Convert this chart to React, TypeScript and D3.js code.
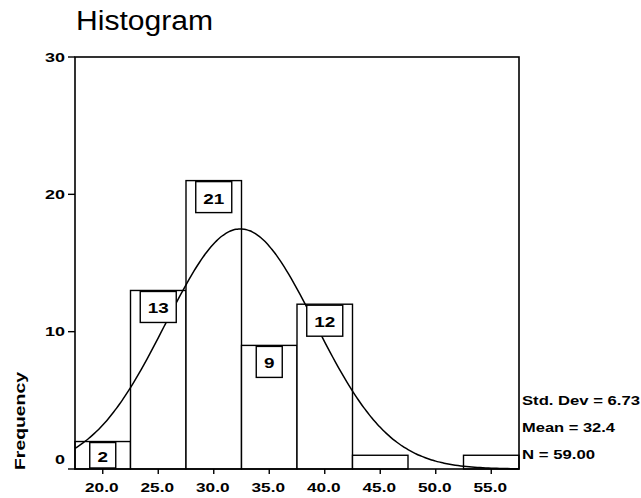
import * as d3 from "d3";

// histogram bins (lower edge) and frequencies
const binStarts = [17.5, 22.5, 27.5, 32.5, 37.5, 42.5, 47.5, 52.5];
const counts = [2, 13, 21, 9, 12, 1, 0, 1];
const showLabel = [true, true, true, true, true, false, false, false];
const yTicks = [0, 10, 20, 30];
const xTicks = [20, 25, 30, 35, 40, 45, 50, 55];
const statLines = ["Std. Dev = 6.73", "Mean = 32.4", "N = 59.00"];
const statWidths = [118, 93, 73];

// fitted normal curve parameters (from the chart's legend)
const mean = 32.4;
const stdDev = 6.73;
const total = 59;
const binWidth = 5;

const FONT = "'Liberation Sans', Arial, sans-serif";

function Txt({ x, y, text, size, len, anchor = "start", weight = "bold", rotate }: any) {
  return (
    <text
      x={x}
      y={y}
      fontSize={size}
      fontFamily={FONT}
      fontWeight={weight}
      textAnchor={anchor}
      dominantBaseline="central"
      textLength={len}
      lengthAdjust="spacingAndGlyphs"
      transform={rotate ? `rotate(${rotate},${x},${y})` : undefined}
    >
      {text}
    </text>
  );
}

const numWidth = (s: string) => s.split("").reduce((a, c) => a + (c === "." ? 5 : 9.5), 0);

export default function App() {
  const width = 641;
  const height = 498;

  const x = d3.scaleLinear().domain([17.5, 57.5]).range([75, 519]);
  const y = d3.scaleLinear().domain([0, 30]).range([469, 57]);

  const normal = (v: number) =>
    (total * binWidth) / (stdDev * Math.sqrt(2 * Math.PI)) *
    Math.exp(-((v - mean) ** 2) / (2 * stdDev * stdDev));

  const curvePts = d3.range(17.5, 57.51, 0.25).map((v) => [v, normal(v)] as [number, number]);
  const line = d3
    .line<[number, number]>()
    .x((d) => x(d[0]))
    .y((d) => y(d[1]))
    .curve(d3.curveBasis);

  return (
    <svg
      width={width}
      height={height}
      style={{ position: "absolute", left: 0, top: 0, background: "#fff" }}
    >
      <rect width={width} height={height} fill="#fff" />

      {/* title */}
      <text x={76} y={30} fontSize={27} fontFamily={FONT} textLength={137} lengthAdjust="spacingAndGlyphs">
        Histogram
      </text>

      {/* bars */}
      {binStarts.map((b, i) =>
        counts[i] > 0 ? (
          <rect
            key={"bar" + i}
            x={x(b)}
            y={y(counts[i])}
            width={x(b + binWidth) - x(b)}
            height={y(0) - y(counts[i])}
            fill="#fff"
            stroke="#000"
            strokeWidth={1.4}
          />
        ) : null
      )}

      {/* normal curve */}
      <path d={line(curvePts) || ""} fill="none" stroke="#000" strokeWidth={1.5} />

      {/* value boxes */}
      {binStarts.map((b, i) => {
        if (!showLabel[i]) return null;
        const label = String(counts[i]);
        const bw = label.length > 1 ? 36 : 26;
        const cx = x(b + binWidth / 2);
        const top = y(counts[i]) + 1;
        const bh = Math.min(31, y(0) - top - 1);
        return (
          <g key={"lab" + i}>
            <rect x={cx - bw / 2} y={top} width={bw} height={bh} fill="#fff" stroke="#000" strokeWidth={1.4} />
            <Txt x={cx} y={top + bh / 2 + 1} text={label} size={15} len={label.length * 10.5} anchor="middle" />
          </g>
        );
      })}

      {/* frame */}
      <rect x={x(17.5)} y={y(30)} width={x(57.5) - x(17.5)} height={y(0) - y(30)} fill="none" stroke="#000" strokeWidth={1.6} />

      {/* y axis */}
      {yTicks.map((t) => (
        <g key={"yt" + t}>
          <line x1={68} x2={75} y1={y(t)} y2={y(t)} stroke="#000" strokeWidth={1.4} />
          <Txt
            x={65}
            y={t === 0 ? y(t) - 10 : y(t)}
            text={String(t)}
            size={13}
            len={String(t).length * 10}
            anchor="end"
          />
        </g>
      ))}

      {/* x axis */}
      {xTicks.map((t) => {
        const label = t.toFixed(1);
        return (
          <g key={"xt" + t}>
            <line x1={x(t)} x2={x(t)} y1={y(0)} y2={y(0) + 5} stroke="#000" strokeWidth={1.4} />
            <Txt x={x(t) - 1} y={487} text={label} size={13} len={numWidth(label)} anchor="middle" />
          </g>
        );
      })}

      {/* axis title */}
      <Txt x={19} y={421} text="Frequency" size={15} len={98} anchor="middle" rotate={-90} />

      {/* stats */}
      {statLines.map((s, i) => (
        <Txt key={s} x={522} y={401 + i * 27} text={s} size={12} len={statWidths[i]} />
      ))}
    </svg>
  );
}
